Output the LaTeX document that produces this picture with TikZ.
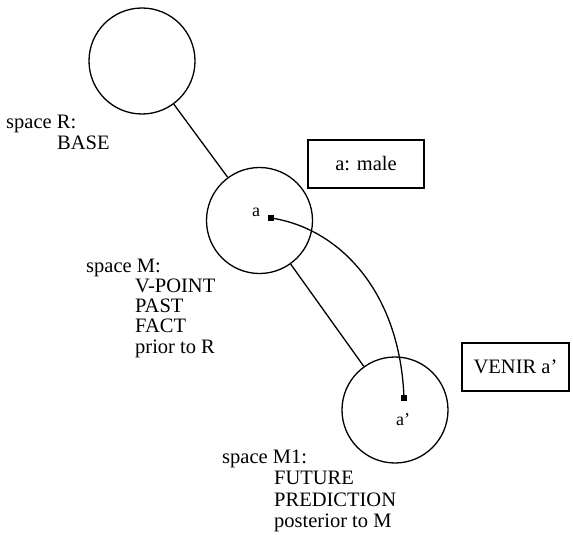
\documentclass[tikz,border=0pt]{standalone}
\usepackage{fontspec}
\setmainfont{Liberation Serif}
\begin{document}
\begin{tikzpicture}[x=1pt,y=-1pt,
  spacecirc/.style={circle,draw,line width=1.3pt,minimum size=106pt,inner sep=0pt},
  elem/.style={rectangle,fill=black,minimum size=6.5pt,inner sep=0pt},
  frame/.style={rectangle,draw,line width=1.7pt,minimum height=48pt,inner sep=0pt,font=\fontsize{20.5}{21.5}\selectfont},
  desc/.style={anchor=base west,inner sep=0pt,font=\fontsize{20.5}{21.5}\selectfont},
  elabel/.style={anchor=base,inner sep=0pt,font=\fontsize{18}{20}\selectfont},
  link/.style={line width=1.3pt}]
\useasboundingbox (0,0) rectangle (573,535);
% spaces
\node[spacecirc] (R) at (142,61) {};
\node[spacecirc] (M) at (259.5,220.5) {};
\node[spacecirc] (M1) at (395,410) {};
\draw[link] (R) -- (M);
\draw[link] (M) -- (M1);
% elements
\node[elem] (a) at (271,218) {};
\node[elem] (ap) at (404,398) {};
\draw[link] (a.center) .. controls (338,228) and (400,290) .. (ap.center);
\node[elabel] (la) at (256,216) {a};
\node[elabel] (lap) at (403,425) {a'};
% boxes
\node[frame,minimum width=116pt] (boxa) at (366,164) {a: male};
\node[frame,minimum width=107pt] (boxv) at (515.5,367) {VENIR a'};
% descriptions
\node[desc,font=\fontsize{20.5}{21}\selectfont] (descR) at (6,128) {\begin{tabular}[t]{@{}l@{}}space R:\\\hspace*{51pt}BASE\end{tabular}};
\node[desc,font=\fontsize{20.5}{20.3}\selectfont] (descM) at (86,272) {\begin{tabular}[t]{@{}l@{}}space M:\\\hspace*{49pt}V-POINT\\\hspace*{49pt}PAST\\\hspace*{49pt}FACT\\\hspace*{49pt}prior to R\end{tabular}};
\node[desc] (descM1) at (222,463) {\begin{tabular}[t]{@{}l@{}}space M1:\\\hspace*{52pt}FUTURE\\\hspace*{52pt}PREDICTION\\\hspace*{52pt}posterior to M\end{tabular}};
\end{tikzpicture}
\end{document}
